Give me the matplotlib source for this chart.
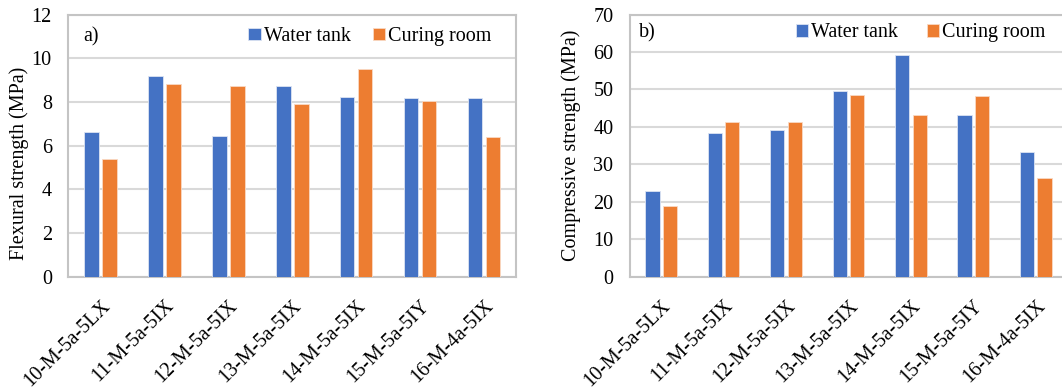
import numpy as np
import matplotlib.pyplot as plt

plt.rcParams["font.family"] = ["Liberation Serif", "DejaVu Serif"]

mixes = ["10-M-5a-5LX", "11-M-5a-5IX", "12-M-5a-5IX", "13-M-5a-5IX",
         "14-M-5a-5IX", "15-M-5a-5IY", "16-M-4a-5IX"]

flex_water = [6.62, 9.21, 6.44, 8.75, 8.25, 8.20, 8.17]
flex_room = [5.39, 8.83, 8.74, 7.91, 9.51, 8.04, 6.39]

comp_water = [22.8, 38.3, 39.3, 49.5, 59.2, 43.1, 33.2]
comp_room = [18.9, 41.3, 41.2, 48.5, 43.2, 48.2, 26.4]

blue = "#4472C4"
orange = "#ED7D31"
fs = 14.5

fig = plt.figure(figsize=(10.62, 3.91), dpi=100)
# right panel runs slightly past the image edge, as in the original figure
ax1 = fig.add_axes([0.0645, 0.2916, 0.4214, 0.6713])
ax2 = fig.add_axes([0.5932, 0.2916, 0.4115, 0.6713])


def draw(ax, wt, cr, ymax, step, ylabel, tag, tag_xy, ylab_xy, leg_xy, colsp):
    x = np.arange(len(mixes))
    w = 0.227
    off = w / 2 + 0.027
    ax.bar(x - off, wt, width=w, color=blue, edgecolor="#DCE4F2", linewidth=0.6,
           label="Water tank", zorder=3)
    ax.bar(x + off, cr, width=w, color=orange, edgecolor="#F9D9C4", linewidth=0.6,
           label="Curing room", zorder=3)
    ax.set_xlim(-0.5, len(mixes) - 0.5)
    ax.set_ylim(0, ymax)
    ax.set_yticks(np.arange(0, ymax + 1, step))
    ax.grid(axis="y", color="#D9D9D9", linewidth=1.5, zorder=0)
    ax.set_axisbelow(True)
    for s in ax.spines.values():
        s.set_color("#C4C4C4")
        s.set_linewidth(1.5)
    ax.tick_params(axis="y", length=0, labelsize=fs, pad=12)
    ax.tick_params(axis="x", length=0, labelsize=fs, pad=14)
    ax.set_xticks(x)
    ax.set_xticklabels(mixes, rotation=45, ha="right", rotation_mode="anchor")
    ax.set_ylabel(ylabel, fontsize=fs)
    ax.yaxis.set_label_coords(*ylab_xy)
    ax.text(tag_xy[0], tag_xy[1], tag, transform=ax.transAxes, fontsize=fs,
            va="center")
    ax.legend(loc="center right", bbox_to_anchor=leg_xy, frameon=False,
              fontsize=fs, ncol=2, handlelength=0.6, handleheight=0.6,
              handletextpad=0.15, columnspacing=colsp, borderpad=0,
              borderaxespad=0)


draw(ax1, flex_water, flex_room, 12, 2, "Flexural strength (MPa)", "a)",
     (0.032, 0.914), (-0.088, 0.434), (0.946, 0.916), 1.14)
draw(ax2, comp_water, comp_room, 70, 10, "Compressive strength (MPa)", "b)",
     (0.02, 0.93), (-0.112, 0.5), (0.950, 0.93), 1.44)

fig.savefig("out.png", dpi=100)
